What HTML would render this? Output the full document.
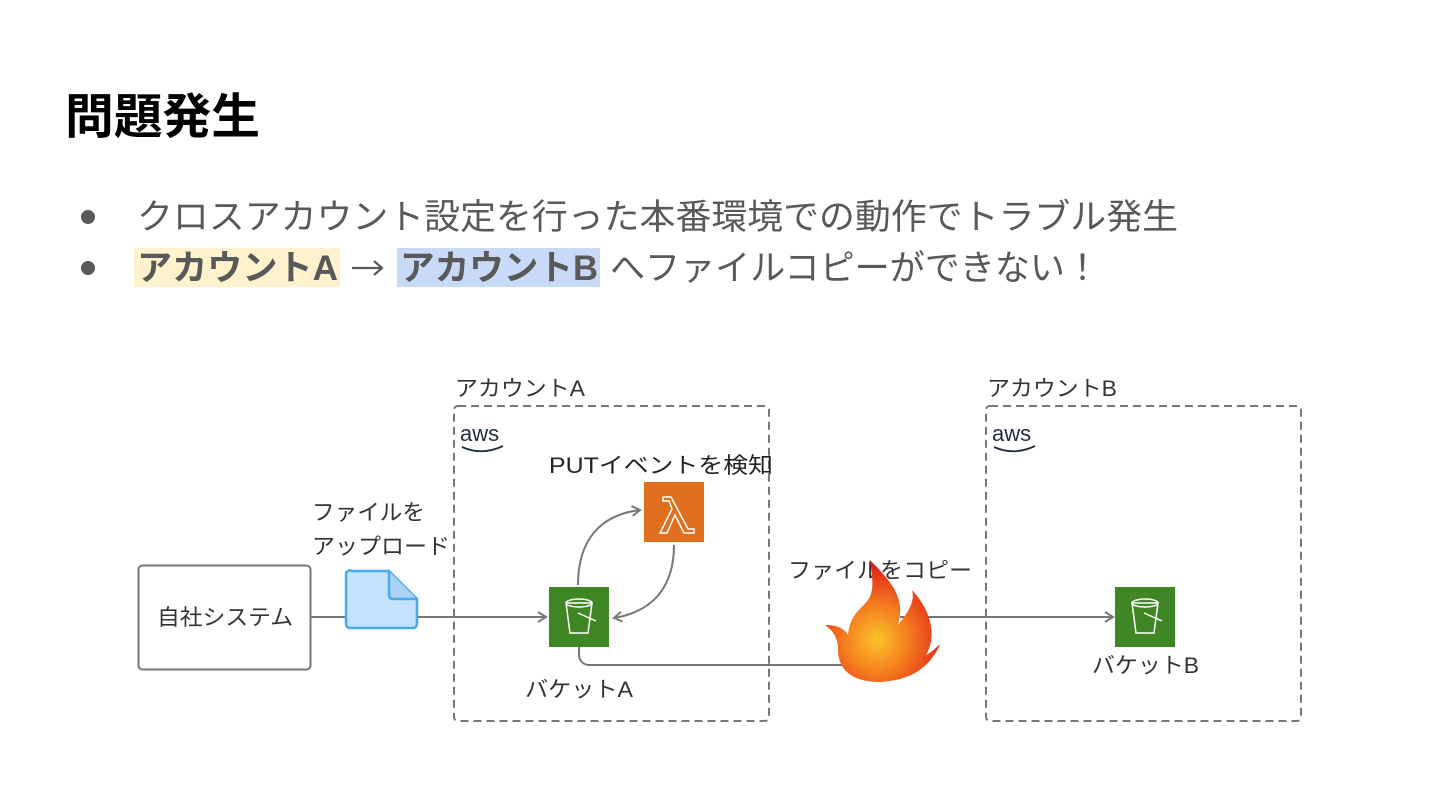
<!DOCTYPE html>
<html><head><meta charset="utf-8"><style>
body{margin:0;background:#fff;}
svg{display:block;font-family:"Liberation Sans","Noto Sans CJK JP",sans-serif;}
</style></head><body>
<svg width="1440" height="810" viewBox="0 0 1440 810" xmlns="http://www.w3.org/2000/svg">
<defs>
<radialGradient id="fg" cx="0.45" cy="0.65" r="0.6">
<stop offset="0" stop-color="#f9c22a"/><stop offset="0.45" stop-color="#f5801f"/><stop offset="1" stop-color="#e2231a"/>
</radialGradient>
<marker id="ar" markerWidth="12" markerHeight="12" refX="10" refY="6" orient="auto" markerUnits="userSpaceOnUse">
<path d="M2,1 L10,6 L2,11" fill="none" stroke="#777" stroke-width="2"/>
</marker>
</defs>
<text x="65" y="133" font-size="48" font-weight="bold" fill="#000" textLength="195" lengthAdjust="spacingAndGlyphs">問題発生</text>
<circle cx="88" cy="217" r="7" fill="#595959"/>
<circle cx="88" cy="268" r="7" fill="#595959"/>
<text x="137" y="229" font-size="35" fill="#595959" textLength="1041" lengthAdjust="spacingAndGlyphs">クロスアカウント設定を行った本番環境での動作でトラブル発生</text>
<rect x="134" y="248" width="206" height="39" fill="#fff2cc"/>
<rect x="397" y="248" width="203" height="39" fill="#c9daf8"/>
<text x="137" y="280" font-size="35" fill="#595959" font-weight="bold" textLength="201" lengthAdjust="spacingAndGlyphs">アカウントA</text>
<path d="M352,268 H381 M374,261 L382,268 L374,275" fill="none" stroke="#595959" stroke-width="2.2"/>
<text x="400" y="280" font-size="35" fill="#595959" font-weight="bold" textLength="198" lengthAdjust="spacingAndGlyphs">アカウントB</text>
<text x="610" y="280" font-size="35" fill="#595959" textLength="490" lengthAdjust="spacingAndGlyphs">へファイルコピーができない！</text>

<rect x="138.5" y="565.5" width="172" height="104" rx="4" fill="#fff" stroke="#777" stroke-width="2"/>
<text x="157" y="625" font-size="22" fill="#333" textLength="136" lengthAdjust="spacingAndGlyphs">自社システム</text>
<line x1="311" y1="617" x2="546" y2="617" stroke="#777" stroke-width="2" marker-end="url(#ar)"/>
<path d="M352,571 H389 L417,599 V624 a4,4 0 0 1 -4,4 H350 a4,4 0 0 1 -4,-4 V575 a4,4 0 0 1 6,-4Z" fill="#c4e2fb" stroke="#4aa8ec" stroke-width="2.5"/>
<path d="M389,571 V595 a4,4 0 0 0 4,4 H417" fill="#a9d2f5" stroke="#4aa8ec" stroke-width="2.5"/>
<text x="312" y="520" font-size="22" fill="#333" textLength="113" lengthAdjust="spacingAndGlyphs">ファイルを</text>
<text x="312" y="554" font-size="22" fill="#333" textLength="138" lengthAdjust="spacingAndGlyphs">アップロード</text>

<rect x="454" y="406" width="315" height="315" rx="4" fill="none" stroke="#777" stroke-width="2" stroke-dasharray="8,5"/>
<text x="455" y="396" font-size="22" fill="#333" textLength="130" lengthAdjust="spacingAndGlyphs">アカウントA</text>
<text x="460" y="441" font-size="22" fill="#232f3e">aws</text>
<path d="M462,447 Q482,456 503,446" fill="none" stroke="#232f3e" stroke-width="1.8"/>
<text x="549" y="473" font-size="22" fill="#222" textLength="224" lengthAdjust="spacingAndGlyphs">PUTイベントを検知</text>
<rect x="644" y="482" width="60" height="60" fill="#e07020"/>
<path d="M663,497 h8 l17,32 h6 v4 h-10 l-9,-18 l-8,18 h-7 l12,-24 l-3,-8 h-6z" fill="none" stroke="#fff" stroke-width="1.5"/>
<rect x="549" y="587" width="60" height="60" fill="#3f8624"/>
<path d="M566,603 h26 l-4,30 h-18z" fill="none" stroke="#fff" stroke-width="1.5"/>
<ellipse cx="579" cy="603" rx="13" ry="4" fill="none" stroke="#fff" stroke-width="1.5"/>
<path d="M578,613 l18,8" fill="none" stroke="#fff" stroke-width="1.5"/>
<path d="M578,585 C578,540 600,515 640,510" fill="none" stroke="#777" stroke-width="2" marker-end="url(#ar)"/>
<path d="M674,545 C674,590 650,612 614,618" fill="none" stroke="#777" stroke-width="2" marker-end="url(#ar)"/>
<text x="525" y="697" font-size="22" fill="#333" textLength="108" lengthAdjust="spacingAndGlyphs">バケットA</text>
<path d="M579,647 V655 a10,10 0 0 0 10,10 H850" fill="none" stroke="#777" stroke-width="2"/>

<text x="788" y="578" font-size="22" fill="#333" textLength="184" lengthAdjust="spacingAndGlyphs">ファイルをコピー</text>
<line x1="900" y1="617" x2="1113" y2="617" stroke="#777" stroke-width="2" marker-end="url(#ar)"/>
<path d="M870,560 C895,585 905,600 898,625 C910,610 915,600 912,590 C935,615 935,640 926,655 C935,650 938,645 940,645 C930,665 915,680 880,682 C850,682 838,668 838,650 C838,640 835,632 825,625 C840,625 845,630 848,635 C850,615 860,610 868,600 C875,590 872,575 870,560Z" fill="url(#fg)"/>

<rect x="986" y="406" width="315" height="315" rx="4" fill="none" stroke="#777" stroke-width="2" stroke-dasharray="8,5"/>
<text x="987" y="396" font-size="22" fill="#333" textLength="130" lengthAdjust="spacingAndGlyphs">アカウントB</text>
<text x="992" y="441" font-size="22" fill="#232f3e">aws</text>
<path d="M994,447 Q1014,456 1035,446" fill="none" stroke="#232f3e" stroke-width="1.8"/>
<rect x="1115" y="587" width="60" height="60" fill="#3f8624"/>
<path d="M1132,603 h26 l-4,30 h-18z" fill="none" stroke="#fff" stroke-width="1.5"/>
<ellipse cx="1145" cy="603" rx="13" ry="4" fill="none" stroke="#fff" stroke-width="1.5"/>
<path d="M1144,613 l18,8" fill="none" stroke="#fff" stroke-width="1.5"/>
<text x="1092" y="673" font-size="22" fill="#333" textLength="107" lengthAdjust="spacingAndGlyphs">バケットB</text>
</svg>
</body></html>
